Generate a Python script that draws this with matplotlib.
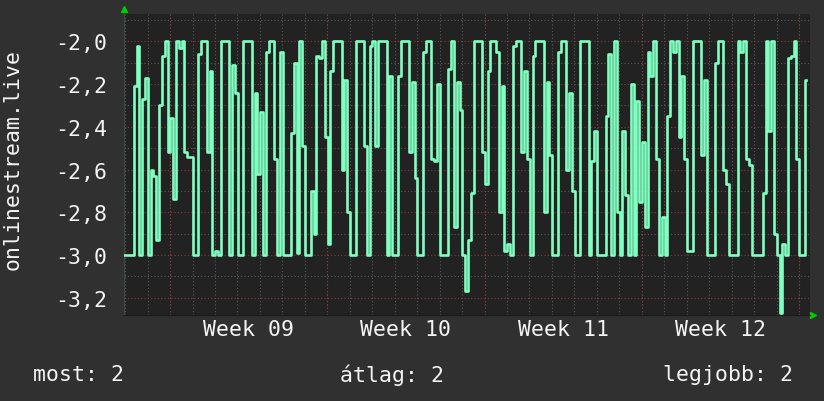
import numpy as np
import matplotlib
matplotlib.use('Agg')
import matplotlib.pyplot as plt

# 3-hourly samples
values = [
    -3.0, -3.0, -3.0, -3.0, -2.21, -2.02, -3.0, -2.27, -2.17, -3.0,
    -2.6, -2.63, -2.93, -2.3, -2.07, -2.0, -2.52, -2.36, -2.74, -2.0,
    -2.03, -2.0, -2.52, -2.54, -2.54, -3.0, -3.0, -2.06, -2.0, -2.0,
    -2.52, -2.14, -3.0, -2.98, -3.0, -2.0, -2.0, -2.0, -3.0, -2.11,
    -2.24, -3.0, -3.0, -2.0, -2.0, -2.0, -3.0, -2.24, -2.62, -2.33,
    -3.0, -2.05, -2.0, -2.0, -2.55, -3.0, -2.05, -3.0, -3.0, -3.0,
    -2.43, -2.1, -2.99, -2.0, -2.49, -3.0, -3.0, -2.7, -2.9, -2.07,
    -2.08, -2.0, -2.45, -2.95, -2.14, -2.0, -2.0, -2.0, -2.6, -2.18,
    -2.8, -3.0, -3.0, -2.0, -2.0, -2.0, -2.49, -3.0, -2.02, -2.0,
    -2.49, -2.0, -2.0, -2.0, -3.0, -2.16, -3.0, -3.0, -2.16, -2.0,
    -2.0, -2.0, -2.52, -2.19, -2.64, -3.0, -3.0, -2.05, -2.0, -2.0,
    -2.55, -2.56, -2.2, -3.0, -3.0, -3.0, -2.13, -2.0, -2.87, -2.19,
    -2.32, -3.0, -3.17, -2.93, -2.71, -2.0, -2.0, -2.0, -2.52, -2.67,
    -2.14, -2.0, -2.0, -2.05, -2.8, -2.21, -2.98, -2.95, -3.0, -2.02,
    -2.0, -2.0, -2.52, -2.14, -2.55, -3.0, -2.07, -2.0, -2.0, -2.0,
    -2.8, -2.19, -2.53, -3.0, -3.0, -2.05, -2.0, -2.0, -2.6, -2.24,
    -2.7, -3.0, -3.0, -2.0, -2.0, -2.0, -3.0, -2.56, -2.42, -3.0,
    -3.0, -3.0, -2.35, -2.06, -3.0, -2.0, -2.8, -3.0, -2.42, -2.72,
    -3.0, -2.2, -3.0, -2.28, -2.75, -2.47, -2.87, -2.05, -2.16, -2.0,
    -2.55, -3.0, -2.82, -3.0, -2.35, -2.0, -2.05, -2.0, -2.45, -2.16,
    -2.55, -2.98, -2.98, -2.0, -2.0, -2.0, -2.53, -2.18, -3.0, -3.0,
    -3.0, -2.1, -2.0, -2.0, -2.6, -2.67, -3.0, -3.0, -3.0, -2.0,
    -2.05, -2.0, -2.55, -2.58, -3.0, -3.0, -3.0, -3.0, -2.71, -2.0,
    -2.42, -2.0, -2.9, -3.0, -3.27, -2.95, -3.0, -2.08, -2.07, -2.0,
    -2.55, -3.0, -3.0, -2.18,
]
step_days = 0.125
span_days = 30.54
first_week = 2.05
weeks = ['Week 09', 'Week 10', 'Week 11', 'Week 12']
y_ticks = [-3.2, -3.0, -2.8, -2.6, -2.4, -2.2, -2.0]
ylabel = 'onlinestream.live'
legend_items = ['most: 2', 'átlag: 2', 'legjobb: 2']

bg = '#303030'
plot_bg = '#222222'
line_col = '#80ffc0'
txt = '#f4f4f4'
font = 'DejaVu Sans Mono'
fs = 15.5

t = np.arange(len(values)) * step_days

fig = plt.figure(figsize=(8.24, 4.02), dpi=100, facecolor=bg)
ax = fig.add_axes([124 / 824, 1 - 316 / 402, 686 / 824, 301 / 402])
ax.set_facecolor(plot_bg)
ax.set_xlim(0, span_days)
ax.set_ylim(-3.281, -1.872)

# grid (dotted, grey minor / red major)
dots = (0, (1, 2))
for k in range(31):
    ax.axvline(0.05 + k, color='#5a5a5a', lw=0.8, ls=dots, zorder=1)
for k in range(5):
    ax.axvline(first_week + 7 * k, color='#8a3a3a', lw=0.8, ls=dots, zorder=1)
for v in np.arange(-3.3, -1.85, 0.1):
    v = round(v, 1)
    if v in y_ticks:
        ax.axhline(v, color='#8a3a3a', lw=0.8, ls=dots, zorder=1)
    else:
        ax.axhline(v, color='#5a5a5a', lw=0.8, ls=dots, zorder=1)

ax.plot(t, values, drawstyle='steps-mid', color=line_col, lw=1.9, zorder=3)

ax.set_yticks(y_ticks)
ax.set_yticklabels([f'{v:.1f}'.replace('.', ',') for v in y_ticks],
                   fontfamily=font, fontsize=fs, color=txt)
centers = [first_week + 3.5 + 7 * k for k in range(len(weeks))]
ax.set_xticks(centers)
ax.set_xticklabels(weeks, fontfamily=font, fontsize=fs, color=txt)
ax.tick_params(axis='y', length=0, pad=12)
ax.tick_params(axis='x', length=0, pad=3)

for s in ['top', 'right']:
    ax.spines[s].set_visible(False)
ax.spines['left'].set_color('#3c4a42')
ax.spines['bottom'].set_color('#1a1a1a')

# little green arrows at the axis ends
ax.plot([0], [1.017], marker='^', color='#00cc00', ms=5, transform=ax.transAxes, clip_on=False)
ax.plot([1.004], [0], marker='>', color='#00cc00', ms=5, transform=ax.transAxes, clip_on=False)

fig.text(13 / 824, 1 - 160 / 402, ylabel, rotation=90, ha='center', va='center',
         fontfamily=font, fontsize=fs, color=txt)

fig.text(33 / 824, 1 - 375 / 402, legend_items[0], ha='left', va='center',
         fontfamily=font, fontsize=fs, color=txt)
fig.text(392 / 824, 1 - 375 / 402, legend_items[1], ha='center', va='center',
         fontfamily=font, fontsize=fs, color=txt)
fig.text(793 / 824, 1 - 375 / 402, legend_items[2], ha='right', va='center',
         fontfamily=font, fontsize=fs, color=txt)

fig.savefig('out.png', dpi=100, facecolor=bg)
